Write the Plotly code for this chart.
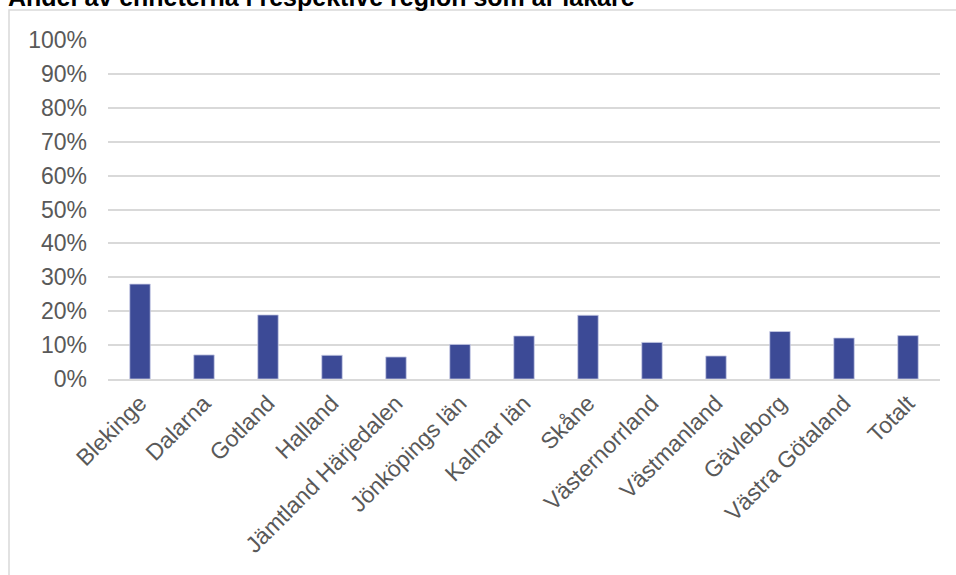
import plotly.graph_objects as go

categories = ["Blekinge", "Dalarna", "Gotland", "Halland", "Jämtland Härjedalen",
              "Jönköpings län", "Kalmar län", "Skåne", "Västernorrland", "Västmanland",
              "Gävleborg", "Västra Götaland", "Totalt"]
values = [0.280, 0.071, 0.189, 0.070, 0.065, 0.102, 0.127, 0.188, 0.108, 0.068, 0.140, 0.121, 0.128]
tick_vals = [0, 0.1, 0.2, 0.3, 0.4, 0.5, 0.6, 0.7, 0.8, 0.9, 1.0]
tick_text = ["0%", "10%", "20%", "30%", "40%", "50%", "60%", "70%", "80%", "90%", "100%"]
title = "Andel av enheterna i respektive region som är läkare"

W, H = 956, 575
ml, mr, mt, mb = 108, 16, 40, 196

fig = go.Figure(go.Bar(
    x=categories, y=values,
    marker=dict(color="#3c4a96", line=dict(color="#c9cde6", width=0.8)),
    width=0.32,
))

pw = W - ml - mr
ph = H - mt - mb
def px_to_paper_x(px):
    return (px - ml) / pw
def px_to_paper_y(py):
    return (H - mb - py) / ph

fig.add_shape(type="rect", xref="paper", yref="paper",
              x0=px_to_paper_x(9), x1=px_to_paper_x(970),
              y0=px_to_paper_y(590), y1=px_to_paper_y(10),
              line=dict(color="#d9d9d9", width=1.5), fillcolor="rgba(0,0,0,0)", layer="below")

fig.add_annotation(text="<b>" + title + "</b>", xref="paper", yref="paper",
                   x=px_to_paper_x(6), y=px_to_paper_y(-3), xanchor="left", yanchor="middle",
                   showarrow=False,
                   font=dict(size=25, color="#000000", family="Liberation Sans, Arial, sans-serif"))

fig.update_layout(
    width=W, height=H,
    margin=dict(l=ml, r=mr, t=mt, b=mb),
    paper_bgcolor="white", plot_bgcolor="white",
    showlegend=False,
    font=dict(family="Liberation Sans, Arial, sans-serif", color="#595959"),
    bargap=0.68,
)
fig.update_yaxes(range=[0, 1], tickvals=tick_vals, ticktext=tick_text,
                 showgrid=True, gridcolor="#d9d9d9", gridwidth=1.5,
                 zeroline=False, showline=False, ticks="",
                 tickfont=dict(size=23, color="#595959"), ticklabelstandoff=20)
fig.update_xaxes(tickangle=-45, showline=True, linecolor="#d9d9d9", linewidth=1.5,
                 ticks="", tickfont=dict(size=23, color="#595959"))

fig.write_html("out.html")
